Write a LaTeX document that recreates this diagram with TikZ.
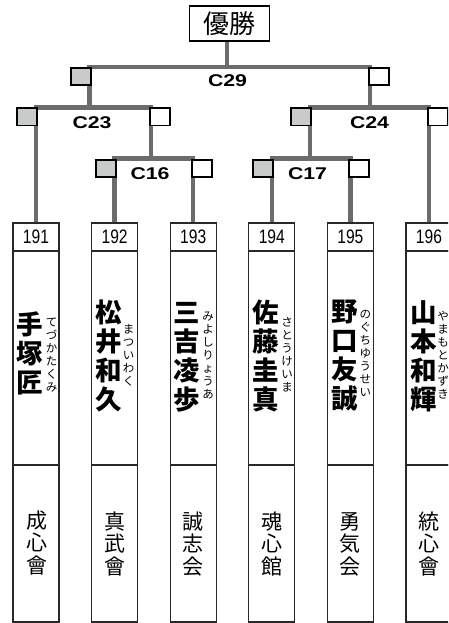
\documentclass[tikz,border=0pt]{standalone}
\usepackage{fontspec}
\setmainfont{Liberation Sans}
\newfontfamily\cjk{Noto Sans CJK JP}
\definecolor{barc}{RGB}{108,108,108}
\definecolor{sqfill}{RGB}{201,203,203}
\definecolor{boxc}{RGB}{40,40,40}
\tikzset{
  bar/.style={draw=barc,line width=4.5pt,line join=miter},
  sq/.style={draw=black,line width=1.8pt,minimum width=20pt,minimum height=17pt,inner sep=0pt},
  sqg/.style={sq,fill=sqfill,anchor=north east,xshift=2.25pt},
  sqw/.style={sq,fill=white,anchor=north west,xshift=-2.25pt},
  mlabel/.style={font=\bfseries\fontsize{17}{17}\selectfont,inner sep=0pt},
  numbox/.style={draw=boxc,line width=1.2pt,minimum width=46pt,minimum height=28pt,inner sep=0pt,font=\fontsize{19.5}{20}\selectfont},
  cellbox/.style={draw=boxc,line width=1.2pt,minimum width=46pt,inner sep=0pt},
  pname/.style={font=\cjk\bfseries\fontsize{26.5}{29}\selectfont,align=center,inner sep=0pt},
  kana/.style={font=\cjk\fontsize{11.5}{13}\selectfont,align=center,inner sep=0pt},
  dojo/.style={font=\cjk\fontsize{21}{22.5}\selectfont,align=center,inner sep=0pt},
}
\begin{document}
\begin{tikzpicture}[x=1pt,y=-1pt]
\useasboundingbox (0,0) rectangle (448,623);
\clip (0,0) rectangle (448,623);
\fill[white] (0,0) rectangle (448,623);
% winner box
\node[draw=black,line width=1.6pt,minimum width=80pt,minimum height=35pt,inner sep=0pt,font=\cjk\fontsize{26}{26}\selectfont] (win) at (229.5,23.3) {優勝};
% competitor boxes
\foreach \i/\n in {0/191,1/192,2/193,3/194,4/195,5/196}{
  \pgfmathsetmacro\cx{36+78.6*\i}
  \node[numbox] (n\n) at (\cx,237) {\scalebox{0.8}[1]{\n}};
  \node[cellbox,minimum height=214pt] (c\n) at (\cx,358) {};
  \node[cellbox,minimum height=157pt] (d\n) at (\cx,543.5) {};
}
% junctions
\coordinate (j29) at (227,67);
\coordinate (j23) at (89.5,107.5);
\coordinate (j24) at (370,107.5);
\coordinate (j16) at (151,158.7);
\coordinate (j17) at (310,158.7);
% connectors
\draw[bar] (win.south -| j29) -- (j29);
\draw[bar] (j23) |- (j29) -| (j24);
\draw[bar] (n191.north) |- (j23) -| (j16);
\draw[bar] (j17) |- (j24) -| (n196.north);
\draw[bar] (n192.north) |- (j16) -| (n193.north);
\draw[bar] (n194.north) |- (j17) -| (n195.north);
% squares
\node[sqg] (s29a) at (j23 |- j29) {};
\node[sqw] (s29b) at (j24 |- j29) {};
\node[sqg] (s23a) at (n191.north |- j23) {};
\node[sqw] (s23b) at (j16 |- j23) {};
\node[sqg] (s24a) at (j17 |- j24) {};
\node[sqw] (s24b) at (n196.north |- j24) {};
\node[sqg] (s16a) at (n192.north |- j16) {};
\node[sqw] (s16b) at (n193.north |- j16) {};
\node[sqg] (s17a) at (n194.north |- j17) {};
\node[sqw] (s17b) at (n195.north |- j17) {};
% match labels
\node[mlabel] (l29) at (227.5,80.5) {\scalebox{1.25}[1]{C29}};
\node[mlabel] (l23) at (92,123) {\scalebox{1.25}[1]{C23}};
\node[mlabel] (l24) at (369.5,123) {\scalebox{1.25}[1]{C24}};
\node[mlabel] (l16) at (150,174) {\scalebox{1.25}[1]{C16}};
\node[mlabel] (l17) at (307.5,173.5) {\scalebox{1.25}[1]{C17}};
% names
\node[pname] (p191) at (30,353) {手\\塚\\匠};
\node[pname] (p192) at (108.6,356) {松\\井\\和\\久};
\node[pname] (p193) at (187.2,357) {三\\吉\\凌\\歩};
\node[pname] (p194) at (265.8,356) {佐\\藤\\圭\\真};
\node[pname] (p195) at (344.4,355) {野\\口\\友\\誠};
\node[pname] (p196) at (423.5,356) {山\\本\\和\\輝};
% furigana
\node[kana] (k191) at (51.5,355) {て\\づ\\か\\た\\く\\み};
\node[kana] (k192) at (128.5,355) {ま\\つ\\い\\わ\\く};
\node[kana] (k193) at (208.2,355) {み\\よ\\し\\り\\ょ\\う\\あ};
\node[kana] (k194) at (287,355) {さ\\と\\う\\け\\い\\ま};
\node[kana] (k195) at (365.4,353.5) {の\\ぐ\\ち\\ゆ\\う\\せ\\い};
\node[kana] (k196) at (443,355) {や\\ま\\も\\と\\か\\ず\\き};
% dojo
\node[dojo] (o191) at (36.5,543) {成\\心\\會};
\node[dojo] (o192) at (114.6,544) {真\\武\\會};
\node[dojo] (o193) at (193.2,544) {誠\\志\\会};
\node[dojo] (o194) at (271.8,544) {魂\\心\\館};
\node[dojo] (o195) at (350.4,544) {勇\\気\\会};
\node[dojo] (o196) at (429,544) {統\\心\\會};
\end{tikzpicture}
\end{document}
